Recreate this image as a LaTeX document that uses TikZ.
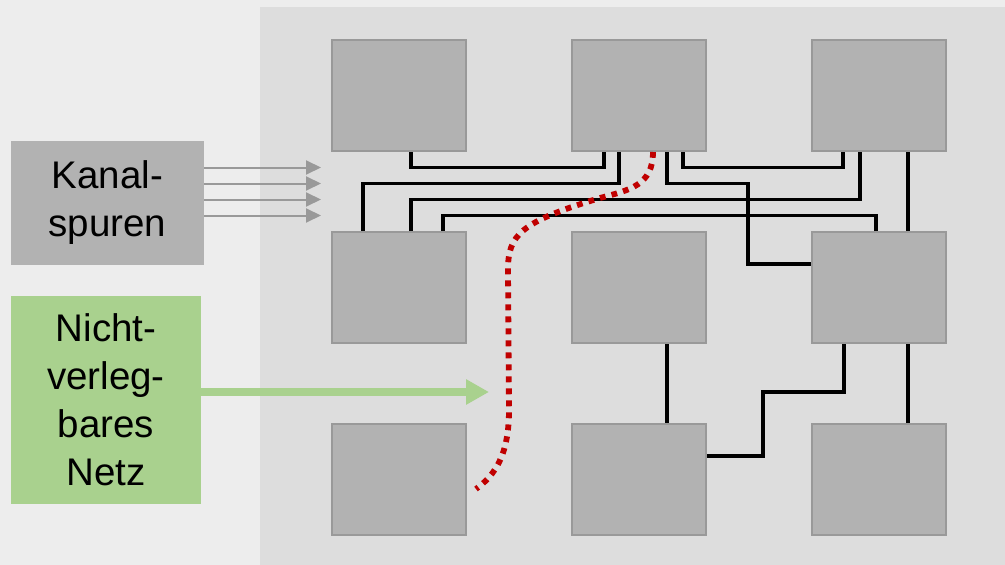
\documentclass[tikz,border=0pt]{standalone}
\usepackage{fontspec}
\setmainfont{Liberation Sans}
\usetikzlibrary{arrows.meta, positioning}
\definecolor{back_gray}{HTML}{EDEDED}
\definecolor{panel_gray}{HTML}{DDDDDD}
\definecolor{block_gray}{HTML}{B2B2B2}
\definecolor{block_line}{HTML}{999999}
\definecolor{track_gray}{HTML}{999999}
\definecolor{net_green}{HTML}{A9D18E}
\definecolor{blocked_red}{HTML}{C00000}
\tikzset{
	blk/.style={draw=block_line, fill=block_gray, line width=2pt, minimum width=134pt, minimum height=111pt, inner sep=0pt},
	label box/.style={inner sep=0pt, align=center, font=\fontsize{38.5pt}{48pt}\selectfont},
	wire/.style={line width=3.3pt, black, line join=miter},
	track/.style={line width=2pt, track_gray, -{Triangle[length=15pt,width=14pt]}},
	unroute/.style={line width=8pt, net_green, -{Triangle[length=23pt,width=24pt]}},
	blocked/.style={line width=5.8pt, blocked_red, dash pattern=on 5.8pt off 6.2pt}
}

\begin{document}
\begin{tikzpicture}[x=1pt,y=-1pt]
		\useasboundingbox[fill=back_gray] (0,0) rectangle (1005,565);
		\fill[panel_gray] (260,7) rectangle (1005,565);
		\foreach\r in {1,2,3}
			\foreach\c in {1,2,3}
			{
				\pgfmathsetmacro\xx{159+240*\c}
				\pgfmathsetmacro\yy{-96.5+192*\r}
				\node[blk] (b\r\c) at (\xx,\yy) {};
			}
		\foreach\i in {1,2,3,4}
			\coordinate (t\i) at (321,{151.5+16*\i});
		\node[label box, fill=block_gray, minimum width=193pt, minimum height=124pt] (kanal) at (107.5,203) {Kanal-\\spuren};
		\node[label box, fill=net_green, minimum width=190pt, minimum height=208pt] (net) at (106,400) {Nicht-\\verleg-\\bares\\Netz};
		\coordinate (wa1) at ([xshift=12pt]b11.south);
		\coordinate (wa2) at ([xshift=-35pt]b12.south);
		\coordinate (wb1) at ([xshift=-20pt]b12.south);
		\coordinate (wb2) at ([xshift=-36pt]b21.north);
		\coordinate (wc1) at ([xshift=-19pt]b13.south);
		\coordinate (wc2) at ([xshift=12pt]b21.north);
		\coordinate (wd1) at ([xshift=-3pt]b23.north);
		\coordinate (wd2) at ([xshift=44pt]b21.north);
		\coordinate (we1) at ([xshift=28pt]b12.south);
		\coordinate (we2) at ([yshift=23.5pt]b23.west);
		\coordinate (we3) at ([xshift=-63pt]we2);
		\coordinate (wf1) at ([xshift=44pt]b12.south);
		\coordinate (wf2) at ([xshift=-36pt]b13.south);
		\coordinate (wi1) at ([yshift=23.5pt]b32.east);
		\coordinate (wi2) at ([xshift=-35pt]b23.south);
		\draw[wire] (wa1) |- (wa2 |- t1) -- (wa2);
		\draw[wire] (wb1) |- (wb2 |- t2) -- (wb2);
		\draw[wire] (wc1) |- (wc2 |- t3) -- (wc2);
		\draw[wire] (wd1) |- (wd2 |- t4) -- (wd2);
		\draw[wire] (we1) |- (we3 |- t2) -- (we3) -- (we2);
		\draw[wire] (wf1) |- (wf2 |- t1) -- (wf2);
		\draw[wire] ([xshift=29pt]b13.south) -- ([xshift=29pt]b23.north);
		\draw[wire] ([xshift=28pt]b22.south) -- ([xshift=28pt]b32.north);
		\draw[wire] ([xshift=29pt]b23.south) -- ([xshift=29pt]b33.north);
		\draw[wire] (wi1) -| ++(56,-64) -| (wi2);
		\coordinate (r0) at ([xshift=14pt]b12.south);
		\draw[blocked] (r0) .. controls +(0,33) and (630,190) .. (600,198)
			.. controls (520,222) and (508,235) .. (508,270) -- (509,410)
			.. controls (509,455) and (495,475) .. (476,489);
		\foreach\i in {1,2,3,4}
			\draw[track] (kanal.east |- t\i) -- (t\i);
		\coordinate (n) at (489,392);
		\draw[unroute] (net.east |- n) -- (n);
	\end{tikzpicture}
\end{document}
